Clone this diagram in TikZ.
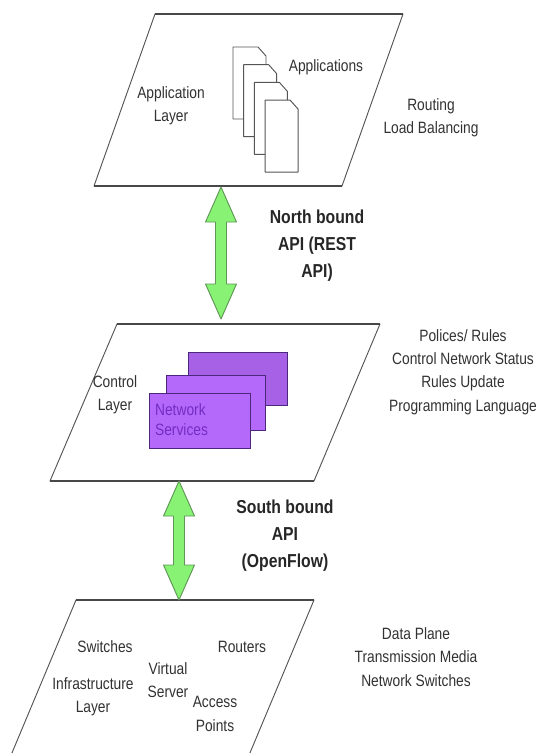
\documentclass[tikz,border=0pt]{standalone}
\usepackage{fontspec}
\setmainfont[FakeStretch=0.84]{Liberation Sans}
\usetikzlibrary{calc}

\definecolor{edgegray}{RGB}{85,85,85}
\definecolor{txtgray}{RGB}{50,50,50}
\definecolor{apigreen}{RGB}{135,242,115}
\definecolor{apiedge}{RGB}{95,150,85}
\definecolor{svcfill}{RGB}{180,105,250}
\definecolor{svcedge}{RGB}{75,40,125}
\definecolor{svctext}{RGB}{115,45,195}

% two-headed API arrow between two named tips (top, bottom)
\newcommand{\apiarrow}[2]{%
  \draw[apiarrow] (#1) -- ($(#1)+(15.5,35)$) -- ($(#1)+(5.5,35)$)
    -- ($(#2)+(5.5,-35)$) -- ($(#2)+(15.5,-35)$) -- (#2)
    -- ($(#2)+(-15.5,-35)$) -- ($(#2)+(-5.5,-35)$)
    -- ($(#1)+(-5.5,35)$) -- ($(#1)+(-15.5,35)$) -- cycle;}

\begin{document}
\begin{tikzpicture}[x=0.03cm, y=-0.03cm,
  layerbox/.style={draw=edgegray, fill=white, line width=0.8pt, line join=round},
  rim/.style={draw=edgegray!85!black, line width=1.6pt},
  lbl/.style={text=txtgray, font=\fontsize{14}{20}\selectfont, align=center},
  api/.style={text=black!85, font=\bfseries\fontsize{16}{23}\selectfont, align=center},
  apiarrow/.style={draw=apiedge, fill=apigreen, line width=0.8pt, line join=round},
  docpage/.style={draw=edgegray, fill=white, line width=0.8pt, line join=round},
  svc/.style={draw=svcedge, fill=svcfill, line width=0.8pt}]
  \useasboundingbox (0,0) rectangle (548,753);

  % application layer
  \coordinate (app-nw) at (155,14);
  \coordinate (app-ne) at (403,14);
  \coordinate (app-se) at (342,186);
  \coordinate (app-sw) at (94,186);
  \draw[layerbox] (app-nw) -- (app-ne) -- (app-se) -- (app-sw) -- cycle;
  \draw[rim] (app-nw) -- (app-ne);
  \draw[rim] (app-sw) -- (app-se);
  % stacked application pages
  \foreach \i in {0,...,3}{
    \draw[docpage] ($(233,47)+(10.7*\i,17.7*\i)$) -- ++(25,0) -- ++(8,9)
      -- ++(0,63) -- ++(-33,0) -- cycle;
  }
  \node[lbl] (applyr) at (171,106) {Application\\Layer};
  \node[lbl] (apps) at (326,67) {Applications};
  \node[lbl] (route) at (431,118) {Routing\\Load Balancing};

  % control layer
  \coordinate (ctl-nw) at (117,324);
  \coordinate (ctl-ne) at (380,324);
  \coordinate (ctl-se) at (314,481);
  \coordinate (ctl-sw) at (50,481);
  \draw[layerbox] (ctl-nw) -- (ctl-ne) -- (ctl-se) -- (ctl-sw) -- cycle;
  \draw[rim] (ctl-nw) -- (ctl-ne);
  \draw[rim] (ctl-sw) -- (ctl-se);
  % network services cards
  \draw[svc, fill=svcfill!92!black] (188,352) rectangle (287,405);
  \draw[svc] (166,375) rectangle (265,430);
  \draw[svc] (149,393) rectangle (250,448);
  \node[anchor=west, text=svctext, align=left,
    font=\fontsize{14}{17}\selectfont] (netsvc) at (151,420) {Network\\Services};
  \node[lbl] (ctllyr) at (115,395) {Control\\Layer};
  \node[lbl] (rules) at (463,372)
    {Polices/ Rules\\Control Network Status\\Rules Update\\Programming Language};

  % infrastructure layer (runs off the bottom)
  \begin{scope}
    \clip (0,0) rectangle (548,753);
    \coordinate (inf-nw) at (76,600);
    \coordinate (inf-ne) at (314,600);
    \draw[layerbox] (inf-nw) -- (inf-ne) -- (247,760) -- (9,760) -- cycle;
    \draw[rim] (inf-nw) -- (inf-ne);
  \end{scope}
  \node[lbl] (switches) at (105,647) {Switches};
  \node[lbl] (routers) at (242,647) {Routers};
  \node[lbl] (vserver) at (168,680) {Virtual\\Server};
  \node[lbl] (inflyr) at (93,697) {Infrastructure\\Layer};
  \node[lbl] (access) at (215,714) {Access\\Points};
  \node[lbl] (dataplane) at (416,657)
    {Data Plane\\Transmission Media\\Network Switches};

  % APIs
  \coordinate (nb-top) at (221,187);
  \coordinate (nb-bot) at (221,319);
  \apiarrow{nb-top}{nb-bot}
  \node[api] (nbapi) at (317,246) {North bound\\API (REST\\API)};
  \coordinate (sb-top) at (179,481);
  \coordinate (sb-bot) at (179,600);
  \apiarrow{sb-top}{sb-bot}
  \node[api] (sbapi) at (285,536) {South bound\\API\\(OpenFlow)};
\end{tikzpicture}
\end{document}
